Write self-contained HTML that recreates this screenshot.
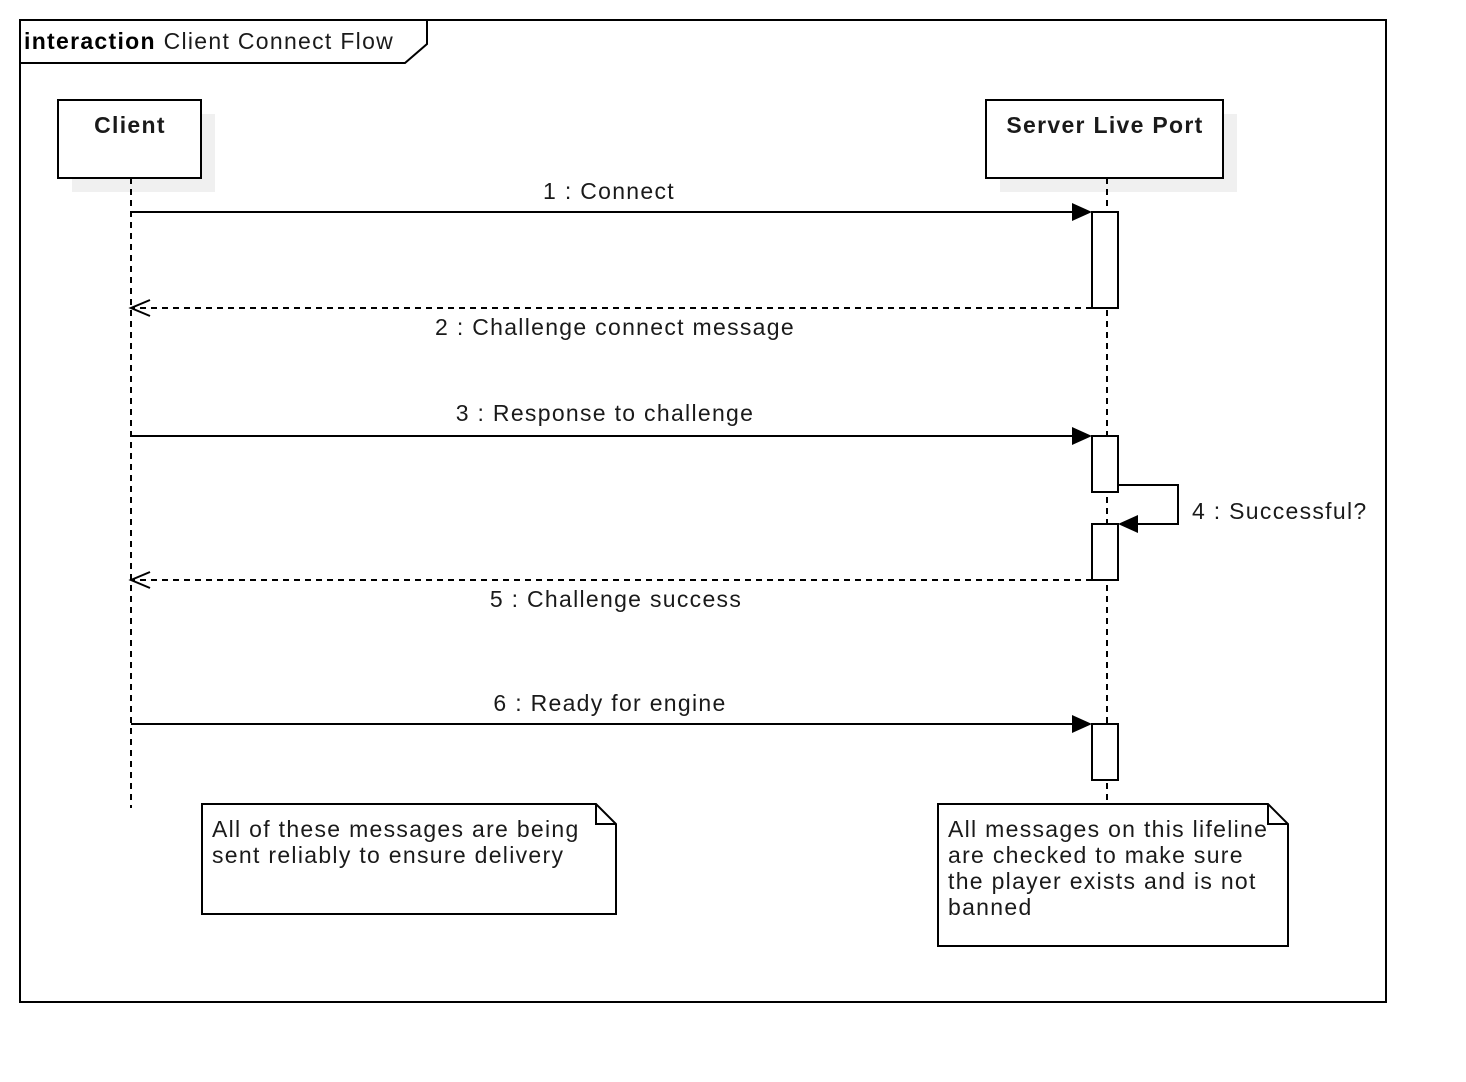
<!DOCTYPE html>
<html><head><style>body{margin:0;background:#fff}svg{display:block}text{font-family:"Liberation Sans",sans-serif;font-size:23px;letter-spacing:1.3px;fill:#1a1a1a}</style></head>
<body>
<svg width="1466" height="1082" viewBox="0 0 1466 1082" xmlns="http://www.w3.org/2000/svg">
<rect width="1466" height="1082" fill="#fff"/>
<rect x="20" y="20" width="1366" height="982" fill="none" stroke="#000" stroke-width="2"/>
<path d="M20 20 H427 V44 L405 63 H20 Z" fill="#fff" stroke="#000" stroke-width="2"/>
<text x="24" y="49"><tspan font-weight="bold" fill="#000">interaction</tspan> Client Connect Flow</text>
<rect x="72" y="114" width="143" height="78" fill="#f0f0f0"/>
<rect x="58" y="100" width="143" height="78" fill="#fff" stroke="#000" stroke-width="2"/>
<text x="130" y="133" text-anchor="middle" font-weight="bold" fill="#000">Client</text>
<rect x="1000" y="114" width="237" height="78" fill="#f0f0f0"/>
<rect x="986" y="100" width="237" height="78" fill="#fff" stroke="#000" stroke-width="2"/>
<text x="1105" y="133" text-anchor="middle" font-weight="bold" fill="#000">Server Live Port</text>
<g stroke="#000" stroke-width="2" stroke-dasharray="6,5" fill="none">
<line x1="131" y1="178" x2="131" y2="808"/>
<line x1="1107" y1="178" x2="1107" y2="800"/>
</g>
<g stroke="#000" stroke-width="2" fill="none">
<line x1="131" y1="212" x2="1074" y2="212"/>
<line x1="131" y1="436" x2="1074" y2="436"/>
<line x1="131" y1="724" x2="1074" y2="724"/>
<polyline points="1118,485 1178,485 1178,524 1136,524"/>
</g>
<g stroke="#000" stroke-width="2" stroke-dasharray="6,5" fill="none">
<line x1="1092" y1="308" x2="133" y2="308"/>
<line x1="1092" y1="580" x2="133" y2="580"/>
</g>
<g stroke="#000" stroke-width="2" fill="none">
<polyline points="150,300 131,308 150,316"/>
<polyline points="150,572 131,580 150,588"/>
</g>
<g fill="#000">
<polygon points="1072,203 1092,212 1072,221"/>
<polygon points="1072,427 1092,436 1072,445"/>
<polygon points="1072,715 1092,724 1072,733"/>
<polygon points="1138,515 1118,524 1138,533"/>
</g>
<g fill="#fff" stroke="#000" stroke-width="2">
<rect x="1092" y="212" width="26" height="96"/>
<rect x="1092" y="436" width="26" height="56"/>
<rect x="1092" y="524" width="26" height="56"/>
<rect x="1092" y="724" width="26" height="56"/>
</g>
<text x="609" y="199" text-anchor="middle">1 : Connect</text>
<text x="615" y="335" text-anchor="middle">2 : Challenge connect message</text>
<text x="605" y="421" text-anchor="middle">3 : Response to challenge</text>
<text x="1192" y="519">4 : Successful?</text>
<text x="616" y="607" text-anchor="middle">5 : Challenge success</text>
<text x="610" y="711" text-anchor="middle">6 : Ready for engine</text>
<path d="M202 804 H596 L616 824 V914 H202 Z M596 804 V824 H616" fill="#fff" stroke="#000" stroke-width="2"/>
<text x="212" y="837">All of these messages are being</text>
<text x="212" y="863">sent reliably to ensure delivery</text>
<path d="M938 804 H1268 L1288 824 V946 H938 Z M1268 804 V824 H1288" fill="#fff" stroke="#000" stroke-width="2"/>
<text x="948" y="837">All messages on this lifeline</text>
<text x="948" y="863">are checked to make sure</text>
<text x="948" y="889">the player exists and is not</text>
<text x="948" y="915">banned</text>
</svg>
</body></html>
